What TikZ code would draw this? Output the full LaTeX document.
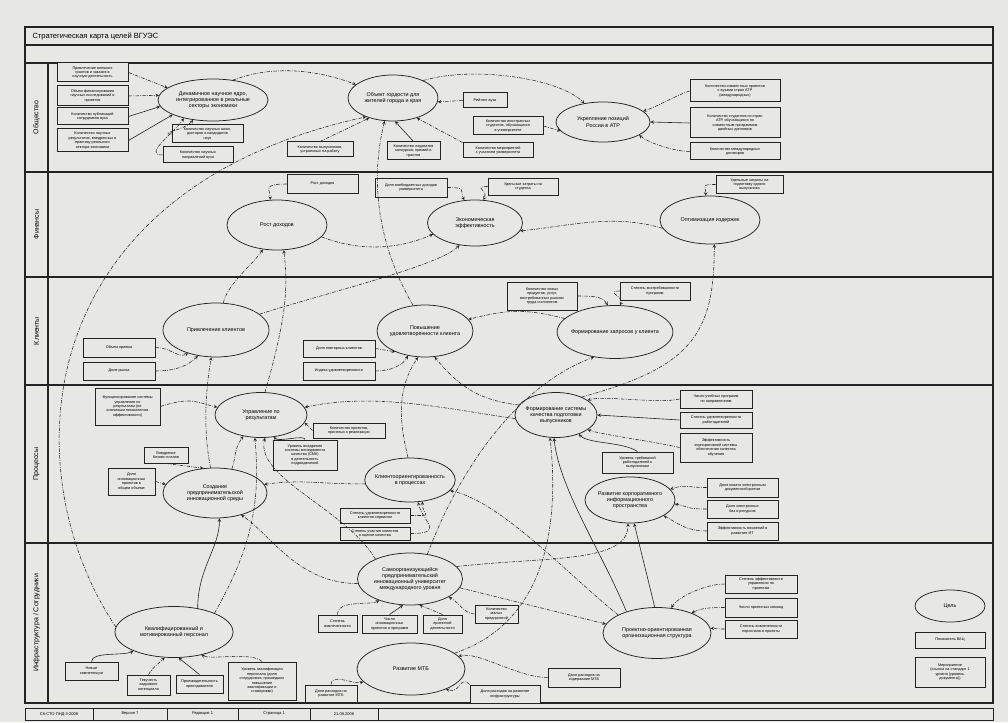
\documentclass[tikz,border=0pt]{standalone}
\usepackage{fontspec}
\setmainfont{Liberation Sans}
\usetikzlibrary{arrows, calc, positioning, shapes}
\definecolor{paper}{RGB}{231,231,227}
\definecolor{ink}{RGB}{35,35,35}

\begin{document}
\begin{tikzpicture}[x=1pt, y=-1pt,
	goal/.style 2 args={ellipse, draw=ink, line width=.75pt, minimum width=#1, minimum height=#2, inner sep=-3pt, align=center, font=\fontsize{5.4}{6.2}\selectfont},
	kpi/.style 2 args={rectangle, draw=ink, line width=1pt, fill=paper, minimum width=#1, minimum height=#2, inner sep=.5pt, align=center, font=\fontsize{3.8}{4.4}\selectfont},
	lnk/.style={draw=ink, line width=.55pt, dash pattern=on 3.5pt off 1.3pt on .8pt off 1.3pt, -stealth},
	sol/.style={draw=ink, line width=.6pt, -stealth},
	lane/.style={draw=ink, line width=1.1pt},
	lanename/.style={rotate=90, font=\fontsize{7}{8}\selectfont}]
	\fill[paper] (0,0) rectangle (1008,722);
	\useasboundingbox (0,0) rectangle (1008,722);
	\draw[lane] (25,27) rectangle (993,703);
	\draw[lane] (25,45) -- (993,45);
	\draw[lane] (25,63) -- (993,63);
	\foreach \y in {172,277,385,543} \draw[lane] (25,\y) -- (993,\y);
	\draw[lane] (48,63) -- (48,703);
	\draw[ink, line width=.8pt] (25,708) rectangle (993,720);
	\foreach \x in {93,167,238,310,378} \draw[ink, line width=.8pt] (\x,708) -- (\x,720);
	\node[anchor=west, font=\fontsize{7.5}{8}\selectfont] (title) at (29,36) {Стратегическая карта целей ВГУЭС};
	\node[lanename] (lObsch) at (36.5,117.5) {Общество};
	\node[lanename] (lFin) at (36.5,224.5) {Финансы};
	\node[lanename] (lKlient) at (36.5,331) {Клиенты};
	\node[lanename] (lProc) at (36.5,464) {Процессы};
	\node[lanename] (lInfra) at (36.5,623) {Инфраструктура / Сотрудники};
	\node[font=\fontsize{4}{4.5}\selectfont] (f1) at (59,714) {СК-СТО-ПНД-3-2008};
	\node[font=\fontsize{4}{4.5}\selectfont] (f2) at (130,714) {Версия 7};
	\node[font=\fontsize{4}{4.5}\selectfont] (f3) at (202.5,714) {Редакция 1};
	\node[font=\fontsize{4}{4.5}\selectfont] (f4) at (274,714) {Страница 1};
	\node[font=\fontsize{4}{4.5}\selectfont] (f5) at (344,714) {21.08.2008};

	\node[goal={110}{42}] (nauka) at (213,100) {Динамичное научное ядро,\\интегрированное в реальные\\секторы экономики};
	\node[goal={90}{46}] (gordost) at (393,98) {Объект гордости для\\жителей города и края};
	\node[goal={94}{40}] (atr) at (603,122) {Укрепление позиций\\России в АТР};
	\node[goal={100}{50}] (dohod) at (277,225) {Рост доходов};
	\node[goal={95}{46}] (effekt) at (475,223) {Экономическая\\эффективность};
	\node[goal={100}{48}] (izderzh) at (710,220) {Оптимизация издержек};
	\node[goal={106}{54}] (privlech) at (216,330) {Привлечение клиентов};
	\node[goal={96}{52}] (udovl) at (425,331) {Повышение\\удовлетворенности клиента};
	\node[goal={115}{53}] (zapros) at (615,332) {Формирование запросов у клиента};
	\node[goal={92}{45}] (upravl) at (261,415) {Управление по\\результатам};
	\node[goal={104}{50}] (sreda) at (215,493) {Создание\\предпринимательской\\инновационной среды};
	\node[goal={90}{44}] (klient) at (410,480) {Клиентоориентированность\\в процессах};
	\node[goal={82}{45}] (kachestvo) at (556,415) {Формирование системы\\качества подготовки\\выпускников};
	\node[goal={90}{46}] (infoprostr) at (630,500) {Развитие корпоративного\\информационного\\пространства};
	\node[goal={118}{51}] (personal) at (174,632) {Квалифицированный и\\мотивированный персонал};
	\node[goal={105}{52}] (univer) at (410,579) {Самоорганизующийся\\предпринимательский\\инновационный университет\\международного уровня};
	\node[goal={108}{52}] (mtb) at (411,669) {Развитие МТБ};
	\node[goal={108}{51}] (proekt) at (657,633) {Проектно-ориентированная\\организационная структура};

	\node[kpi={71}{19}] (k1) at (92.5,72.5) {Привлечение внешних\\грантов и заказов в\\научную деятельность};
	\node[kpi={71}{20}] (k2) at (92.5,96) {Объем финансирования\\научных исследований и\\проектов};
	\node[kpi={71}{17}] (k3) at (92.5,116.5) {Количество публикаций\\сотрудников вуза};
	\node[kpi={71}{23}] (k4) at (92.5,140.5) {Количество научных\\результатов, внедренных в\\практику реального\\сектора экономики};
	\node[kpi={71}{18}] (k5) at (207.5,134) {Количество научных школ,\\докторов и кандидатов\\наук};
	\node[kpi={70}{16}] (k6) at (198,155) {Количество научных\\направлений вуза};
	\node[kpi={66}{15}] (k7) at (320,149.5) {Количество выпускников,\\устроенных на работу};
	\node[kpi={53}{18}] (k9) at (413.5,151) {Количество лауреатов\\конкурсов, премий и\\грантов};
	\node[kpi={70}{15}] (k10) at (498,150.5) {Количество мероприятий\\с участием университета};
	\node[kpi={44}{15}] (k11) at (485,100.5) {Рейтинг вуза};
	\node[kpi={70}{18}] (k12) at (508,126) {Количество иностранных\\студентов, обучающихся\\в университете};
	\node[kpi={90}{22}] (k13) at (735,91) {Количество совместных проектов\\с вузами стран АТР\\(международных)};
	\node[kpi={90}{30}] (k14) at (735,123) {Количество студентов из стран\\АТР, обучающихся по\\совместным программам\\двойных дипломов};
	\node[kpi={90}{17}] (k15) at (735,151.5) {Количество международных\\договоров};
	\node[kpi={71}{18}] (k16) at (322.5,184) {Рост доходов};
	\node[kpi={72}{19}] (k17) at (411,187.5) {Доля внебюджетных доходов\\университета};
	\node[kpi={70}{17}] (k18) at (523,186.5) {Удельные затраты на\\студента};
	\node[kpi={67}{17}] (k19) at (749.5,184.5) {Удельные затраты на\\подготовку одного\\выпускника};
	\node[kpi={72}{19}] (k20) at (119,347.5) {Объем приема};
	\node[kpi={72}{18}] (k21) at (119,371) {Доля рынка};
	\node[kpi={72}{17}] (k22) at (339,348.5) {Доля повторных клиентов};
	\node[kpi={72}{18}] (k23) at (339,371) {Индекс удовлетворенности};
	\node[kpi={70}{28}] (k24) at (542,296) {Количество новых\\продуктов, услуг,\\востребованных рынком\\труда и клиентом};
	\node[kpi={70}{18}] (k25) at (655,291) {Степень востребованности\\программ};
	\node[kpi={65}{37}] (k26) at (127.5,406.5) {Функционирование системы\\управления по\\результатам (по\\ключевым показателям\\эффективности)};
	\node[kpi={44}{16}] (k27) at (166,455) {Внедрение\\бизнес-планов};
	\node[kpi={47}{27}] (k28) at (131.5,481.5) {Доля\\инновационных\\проектов в\\общем объеме};
	\node[kpi={72}{15}] (k29) at (349,430.5) {Количество проектов,\\принятых к реализации};
	\node[kpi={64}{30}] (k30) at (305,455) {Уровень внедрения\\системы менеджмента\\качества (СМК)\\в деятельность\\подразделений};
	\node[kpi={70}{15}] (k31) at (375,515.5) {Степень удовлетворенности\\клиентов сервисом};
	\node[kpi={70}{13}] (k32) at (375,533.5) {Степень участия клиентов\\в оценке качества};
	\node[kpi={71}{21}] (k33) at (637.5,462.5) {Уровень требований\\работодателей к\\выпускникам};
	\node[kpi={72}{18}] (k34) at (716,399) {Число учебных программ\\по направлениям};
	\node[kpi={72}{16}] (k35) at (716,420) {Степень удовлетворенности\\работодателей};
	\node[kpi={72}{29}] (k36) at (716,447.5) {Эффективность\\корпоративной системы\\обеспечения качества\\обучения};
	\node[kpi={71}{19}] (k37) at (742.5,487.5) {Доля охвата электронным\\документооборотом};
	\node[kpi={71}{18}] (k38) at (742.5,509) {Доля электронных\\баз и ресурсов};
	\node[kpi={71}{18}] (k39) at (742.5,531) {Эффективность вложений в\\развитие ИТ};
	\node[kpi={53}{18}] (k40) at (91.5,671) {Новые\\компетенции};
	\node[kpi={43}{20}] (k41) at (148.5,685) {Текучесть\\кадрового\\потенциала};
	\node[kpi={47}{18}] (k42) at (199.5,684) {Производительность\\преподавателя};
	\node[kpi={68}{38}] (k43) at (262,681) {Уровень квалификации\\персонала (доля\\сотрудников, прошедших\\повышение\\квалификации и\\стажировки)};
	\node[kpi={39}{17}] (k44) at (337.5,623.5) {Степень\\вовлеченности};
	\node[kpi={55}{18}] (k45) at (389.5,624) {Число\\инновационных\\проектов и программ};
	\node[kpi={39}{18}] (k46) at (442.5,624) {Доля\\проектной\\деятельности};
	\node[kpi={43}{18}] (k47) at (496.5,614) {Количество\\малых\\предприятий};
	\node[kpi={52}{17}] (k48) at (331,693.5) {Доля расходов на\\развитие МТБ};
	\node[kpi={70}{18}] (k49) at (505,694) {Доля расходов на развитие\\инфраструктуры};
	\node[kpi={72}{19}] (k50) at (584,677.5) {Доля расходов на\\содержание МТБ};
	\node[kpi={72}{18}] (k51) at (761,584) {Степень эффективности\\управления по\\проектам};
	\node[kpi={72}{19}] (k52) at (761,607.5) {Число проектных команд};
	\node[kpi={72}{18}] (k53) at (761,629) {Степень вовлеченности\\персонала в проекты};

	\node[goal={70}{32}] (lgGoal) at (950,606) {Цель};
	\node[kpi={70}{16}] (lgKpi) at (950,640) {Показатель ВАЦ};
	\node[kpi={70}{30}] (lgAct) at (950,672) {Мероприятие\\(ссылка на стандарт 1\\уровня (уровень\\документа))};

	\draw[lnk] (k1.east) -- (nauka.165);
	\draw[lnk] (k2.east) -- (nauka.175);
	\draw[sol] (k3.east) -- (nauka.187);
	\draw[sol] (k4.east) -- (nauka.200);
	\draw[lnk] (k5.west) .. controls +(-15,0) and +(-8,10) .. (nauka.225);
	\draw[lnk] (k6.west) .. controls +(-20,0) and +(-10,15) .. (nauka.212);
	\draw[lnk] (k7.north) -- (gordost.220);
	\draw[sol] (k9.north) -- (gordost.275);
	\draw[lnk] (k10.north west) -- (gordost.320);
	\draw[lnk] (k11.west) -- (gordost.355);
	\draw[lnk] (k12.east) -- (atr.192);
	\draw[lnk] (k13.west) .. controls +(-15,5) and +(15,-5) .. (atr.15);
	\draw[sol] (k14.west) -- (atr.0);
	\draw[lnk] (k15.west) .. controls +(-15,0) and +(10,8) .. (atr.340);
	\draw[lnk] (k16.west) .. controls +(-25,0) and +(0,-10) .. (dohod.105);
	\draw[lnk] (k17.east) .. controls +(20,0) and +(-5,-10) .. (effekt.115);
	\draw[lnk] (k18.west) .. controls +(-15,0) and +(5,-10) .. (effekt.70);
	\draw[lnk] (k19.west) .. controls +(-15,0) and +(0,-10) .. (izderzh.100);
	\draw[lnk] (k20.east) .. controls +(15,0) and +(-10,5) .. (privlech.220);
	\draw[lnk] (k21.east) .. controls +(20,0) and +(-10,10) .. (privlech.235);
	\draw[lnk] (k22.east) -- (udovl.215);
	\draw[lnk] (k23.east) .. controls +(15,0) and +(-5,10) .. (udovl.235);
	\draw[lnk] (k24.east) .. controls +(20,0) and +(-5,-8) .. (zapros.105);
	\draw[lnk] (k25.west) .. controls +(-15,0) and +(5,-8) .. (zapros.80);
	\draw[lnk] (k26.east) .. controls +(30,-10) and +(-20,-5) .. (upravl.170);
	\draw[lnk] (k29.west) -- (upravl.350);
	\draw[sol] (k30.north) .. controls +(0,-5) and +(5,5) .. (upravl.300);
	\draw[lnk] (k27.south) -- (sreda.115);
	\draw[lnk] (k28.east) -- (sreda.170);
	\draw[lnk] (k31.east) .. controls +(25,0) and +(0,15) .. (klient.300);
	\draw[lnk] (k32.east) .. controls +(35,0) and +(5,20) .. (klient.290);
	\draw[sol] (k33.north) .. controls +(-15,-10) and +(10,10) .. (kachestvo.320);
	\draw[lnk] (k34.west) .. controls +(-20,5) and +(15,-5) .. (kachestvo.25);
	\draw[sol] (k35.west) -- (kachestvo.0);
	\draw[lnk] (k36.west) .. controls +(-20,-5) and +(15,5) .. (kachestvo.335);
	\draw[lnk] (k37.west) .. controls +(-20,0) and +(15,-5) .. (infoprostr.15);
	\draw[lnk] (k38.west) .. controls +(-20,0) and +(15,3) .. (infoprostr.355);
	\draw[lnk] (k39.west) .. controls +(-20,0) and +(15,8) .. (infoprostr.335);
	\draw[sol] (k40.north) .. controls +(0,-10) and +(-10,5) .. (personal.205);
	\draw[lnk] (k41.north) .. controls +(5,-8) and +(-5,5) .. (personal.250);
	\draw[sol] (k42.north) -- (personal.280);
	\draw[lnk] (k43.north) .. controls +(-10,-10) and +(10,5) .. (personal.320);
	\draw[lnk] (k44.north) .. controls +(0,-15) and +(-10,5) .. (univer.215);
	\draw[sol] (k45.north) -- (univer.255);
	\draw[lnk] (k46.north) -- (univer.290);
	\draw[lnk] (k47.west) .. controls +(-10,0) and +(10,5) .. (univer.335);
	\draw[lnk] (k48.north) .. controls +(0,-12) and +(-10,3) .. (mtb.195);
	\draw[lnk] (k49.north west) .. controls +(-10,-10) and +(15,5) .. (mtb.330);
	\draw[lnk] (k50.west) .. controls +(-30,0) and +(20,-5) .. (mtb.15);
	\draw[lnk] (k51.west) .. controls +(-20,0) and +(5,-10) .. (proekt.60);
	\draw[lnk] (k52.west) .. controls +(-15,0) and +(10,-5) .. (proekt.30);
	\draw[lnk] (k53.west) .. controls +(-15,0) and +(10,0) .. (proekt.5);

	\draw[lnk] (nauka.45) .. controls +(40,-15) and +(-40,-15) .. (gordost.160);
	\draw[lnk] (gordost.30) .. controls +(50,-15) and +(-25,-25) .. (atr.135);
	\draw[lnk] (dohod.345) .. controls +(40,15) and +(-35,15) .. (effekt.195);
	\draw[lnk] (izderzh.190) .. controls +(-50,-15) and +(50,-5) .. (effekt.350);
	\draw[lnk] (privlech.75) .. controls +(5,-20) and +(-10,15) .. (dohod.240);
	\draw[lnk] (upravl.80) .. controls +(20,-70) and +(5,40) .. (dohod.285);
	\draw[lnk] (udovl.115) .. controls +(-35,-60) and +(-15,60) .. (gordost.250);
	\draw[lnk] (privlech.20) .. controls +(80,-25) and +(-20,20) .. (effekt.235);
	\draw[lnk] (zapros.165) .. controls +(-40,-10) and +(40,-10) .. (udovl.15);
	\draw[lnk] (kachestvo.165) .. controls +(-40,-5) and +(25,30) .. (udovl.290);
	\draw[lnk] (klient.95) .. controls +(-10,-40) and +(-20,30) .. (udovl.255);
	\draw[lnk] (kachestvo.35) .. controls +(110,-30) and +(0,90) .. (izderzh.280);
	\draw[lnk] (kachestvo.185) .. controls +(-70,-10) and +(70,-15) .. (upravl.10);
	\draw[lnk] (sreda.55) .. controls +(5,-15) and +(-10,15) .. (upravl.230);
	\draw[lnk] (sreda.100) .. controls +(-8,-40) and +(-5,30) .. (privlech.260);
	\draw[lnk] (klient.185) .. controls +(-50,0) and +(40,-5) .. (sreda.10);
	\draw[sol] (proekt.145) .. controls +(-25,-60) and +(5,50) .. (kachestvo.265);
	\draw[lnk] (mtb.20) .. controls +(90,-30) and +(10,90) .. (kachestvo.255);
	\draw[lnk] (univer.15) .. controls +(90,-10) and +(0,40) .. (infoprostr.265);
	\draw[sol] (proekt.95) -- (infoprostr.280);
	\draw[lnk] (univer.350) -- (proekt.170);
	\draw[lnk] (proekt.155) .. controls +(-50,-40) and +(50,10) .. (klient.345);
	\draw[sol] (personal.45) .. controls +(0,-40) and +(0,30) .. (sreda.280);
	\draw[lnk] (personal.25) .. controls +(40,-70) and +(5,60) .. (upravl.255);
	\draw[lnk] (univer.185) .. controls +(-60,0) and +(30,20) .. (sreda.320);
	\draw[lnk] (univer.150) .. controls +(-30,-50) and +(-10,40) .. (upravl.280);
	\draw[lnk] (personal.175) .. controls +(-105,-157) and +(-336.5,73.4) .. (gordost.215);
	\draw[lnk] (univer.55) .. controls +(30,-80) and +(-80,30) .. (zapros.230);
\end{tikzpicture}
\end{document}
